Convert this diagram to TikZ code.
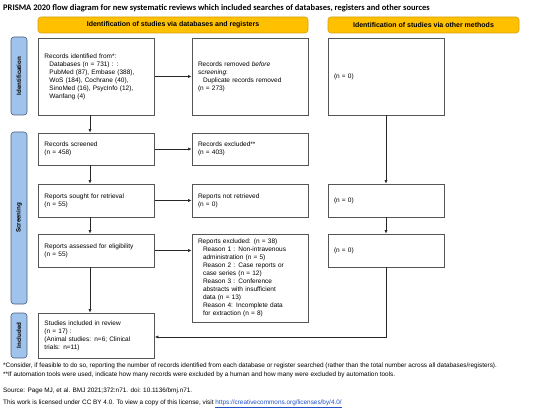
\documentclass[tikz,border=0pt]{standalone}
\usepackage{fontspec}
\setmainfont{Liberation Sans}
\newfontfamily\titlefont{Carlito}
\usetikzlibrary{arrows.meta, positioning}
\definecolor{boxgray}{RGB}{85,85,85}
\definecolor{headyellow}{RGB}{255,192,0}
\definecolor{headborder}{RGB}{214,160,20}
\definecolor{phaseblue}{RGB}{160,195,235}
\definecolor{phaseborder}{RGB}{70,95,130}
\definecolor{linkblue}{RGB}{30,80,200}

\begin{document}
\begin{tikzpicture}[x=1pt, y=-1pt, font=\fontsize{6.5}{8}\selectfont]
        % Setup the styles
        \tikzset{box style/.style={draw=boxgray,
                                   line width=0.8pt,
                                   minimum width=116pt,
                                   inner xsep=6pt,
                                   inner ysep=0pt,
                                   text width=104pt,
                                   align=left},
                 head style/.style={draw=headborder,
                                    fill=headyellow,
                                    rounded corners=3pt,
                                    line width=0.6pt,
                                    minimum height=16pt,
                                    font=\fontsize{7}{8}\selectfont\bfseries},
                 phase style/.style={draw=phaseborder,
                                     fill=phaseblue,
                                     rounded corners=3pt,
                                     line width=0.6pt,
                                     minimum width=16pt},
                 phase text/.style={rotate=90,
                                    font=\fontsize{6.2}{7}\selectfont\bfseries},
                 note style/.style={anchor=west,
                                    inner sep=0pt,
                                    font=\fontsize{6.4}{7}\selectfont},
                 arrow style/.style={draw=black!85,
                                     line width=0.6pt,
                                     -{Latex[length=3.5pt,width=3.2pt]}}}

        \useasboundingbox (0,0) rectangle (550,412);

        % Title and headers
        \node[anchor=west, inner sep=0pt, font=\titlefont\fontsize{8.5}{9}\selectfont\bfseries] (title) at (3,8)
            {PRISMA 2020 flow diagram for new systematic reviews which included searches of databases, registers and other sources};
        \node[head style, minimum width=270pt] (head1) at (173,25)
            {Identification of studies via databases and registers};
        \node[head style, minimum width=191pt] (head2) at (423.5,25)
            {Identification of studies via other methods};

        % Phase bars
        \node[phase style, minimum height=78pt]  (identbar)  at (19,76)    {};
        \node[phase style, minimum height=172pt] (screenbar) at (19,218)   {};
        \node[phase style, minimum height=45pt]  (inclbar)   at (19,335.5) {};
        \node[phase text] at (identbar)  {Identification};
        \node[phase text] at (screenbar) {Screening};
        \node[phase text] at (inclbar)   {Included};

        % Draw the boxes
        \node[box style, minimum height=77pt] (ident) at (96.5,76.5)
            {Records identified from*:\\
             \hspace*{5pt}Databases (n = 731) : :\\
             \hspace*{5pt}PubMed (87), Embase (388),\\
             \hspace*{5pt}WoS (184), Cochrane (40),\\
             \hspace*{5pt}SinoMed (16), PsycInfo (12),\\
             \hspace*{5pt}Wanfang (4)};
        \node[box style, minimum height=77pt] (removed) at (250,76.5)
            {Records removed \textit{before}\\
             \textit{screening}:\\
             \hspace*{5pt}Duplicate records removed\\
             (n = 273)};
        \node[box style, minimum height=77pt] (otherid) at (386,76.5) {(n = 0)};

        \node[box style, minimum height=32pt] (screened) at (96.5,149)
            {Records screened\\(n = 458)};
        \node[box style, minimum height=32pt] (excluded) at (250,149)
            {Records excluded**\\(n = 403)};

        \node[box style, minimum height=33pt] (sought) at (96.5,200.5)
            {Reports sought for retrieval\\(n = 55)};
        \node[box style, minimum height=33pt] (notretr) at (250,200.5)
            {Reports not retrieved\\(n = 0)};
        \node[box style, minimum height=33pt] (othersought) at (386,200.5) {(n = 0)};

        \node[box style, minimum height=33pt] (assessed) at (96.5,250.5)
            {Reports assessed for eligibility\\(n = 55)};
        \node[box style, minimum height=88pt] (repexcl) at (250,278)
            {Reports excluded: (n = 38)\\
             \hspace*{5pt}Reason 1 : Non-intravenous\\
             \hspace*{5pt}administration (n = 5)\\
             \hspace*{5pt}Reason 2 : Case reports or\\
             \hspace*{5pt}case series (n = 12)\\
             \hspace*{5pt}Reason 3 : Conference\\
             \hspace*{5pt}abstracts with insufficient\\
             \hspace*{5pt}data (n = 13)\\
             \hspace*{5pt}Reason 4: Incomplete data\\
             \hspace*{5pt}for extraction (n = 8)};
        \node[box style, minimum height=33pt] (otherassess) at (386,250.5) {(n = 0)};

        \node[box style, minimum height=45pt] (included) at (96.5,335.5)
            {Studies included in review\\
             (n = 17) :\\
             (Animal studies: n=6; Clinical\\
             trials: n=11)};

        % Connect the boxes with arrows
        \coordinate (dbline) at (90,0);
        \coordinate (turn) at (386,337);
        \draw[arrow style] (ident.south -| dbline) -- (screened.north -| dbline);
        \draw[arrow style] (screened.south -| dbline) -- (sought.north -| dbline);
        \draw[arrow style] (sought.south -| dbline) -- (assessed.north -| dbline);
        \draw[arrow style] (assessed.south -| dbline) -- (included.north -| dbline);
        \draw[arrow style] (ident.east) -- (removed.west);
        \draw[arrow style] (screened.east) -- (excluded.west);
        \draw[arrow style] (sought.east) -- (notretr.west);
        \draw[arrow style] (assessed.east) -- (assessed.east -| repexcl.west);
        \draw[arrow style] (otherid.south) -- (othersought.north);
        \draw[arrow style] (othersought.south) -- (otherassess.north);
        \draw[arrow style] (otherassess.south) -- (turn) -- (turn -| included.east);

        % Notes
        \node[note style] (note1) at (3,366)
            {*Consider, if feasible to do so, reporting the number of records identified from each database or register searched (rather than the total number across all databases/registers).};
        \node[note style] (note2) at (3,375)
            {**If automation tools were used, indicate how many records were excluded by a human and how many were excluded by automation tools.};
        \node[note style] (source) at (3,391)
            {Source: Page MJ, et al. BMJ 2021;372:n71. doi: 10.1136/bmj.n71.};
        \node[note style] (licence) at (3,404)
            {This work is licensed under CC BY 4.0. To view a copy of this license, visit \textcolor{linkblue}{\underline{https://creativecommons.org/licenses/by/4.0/}}};
\end{tikzpicture}
\end{document}
